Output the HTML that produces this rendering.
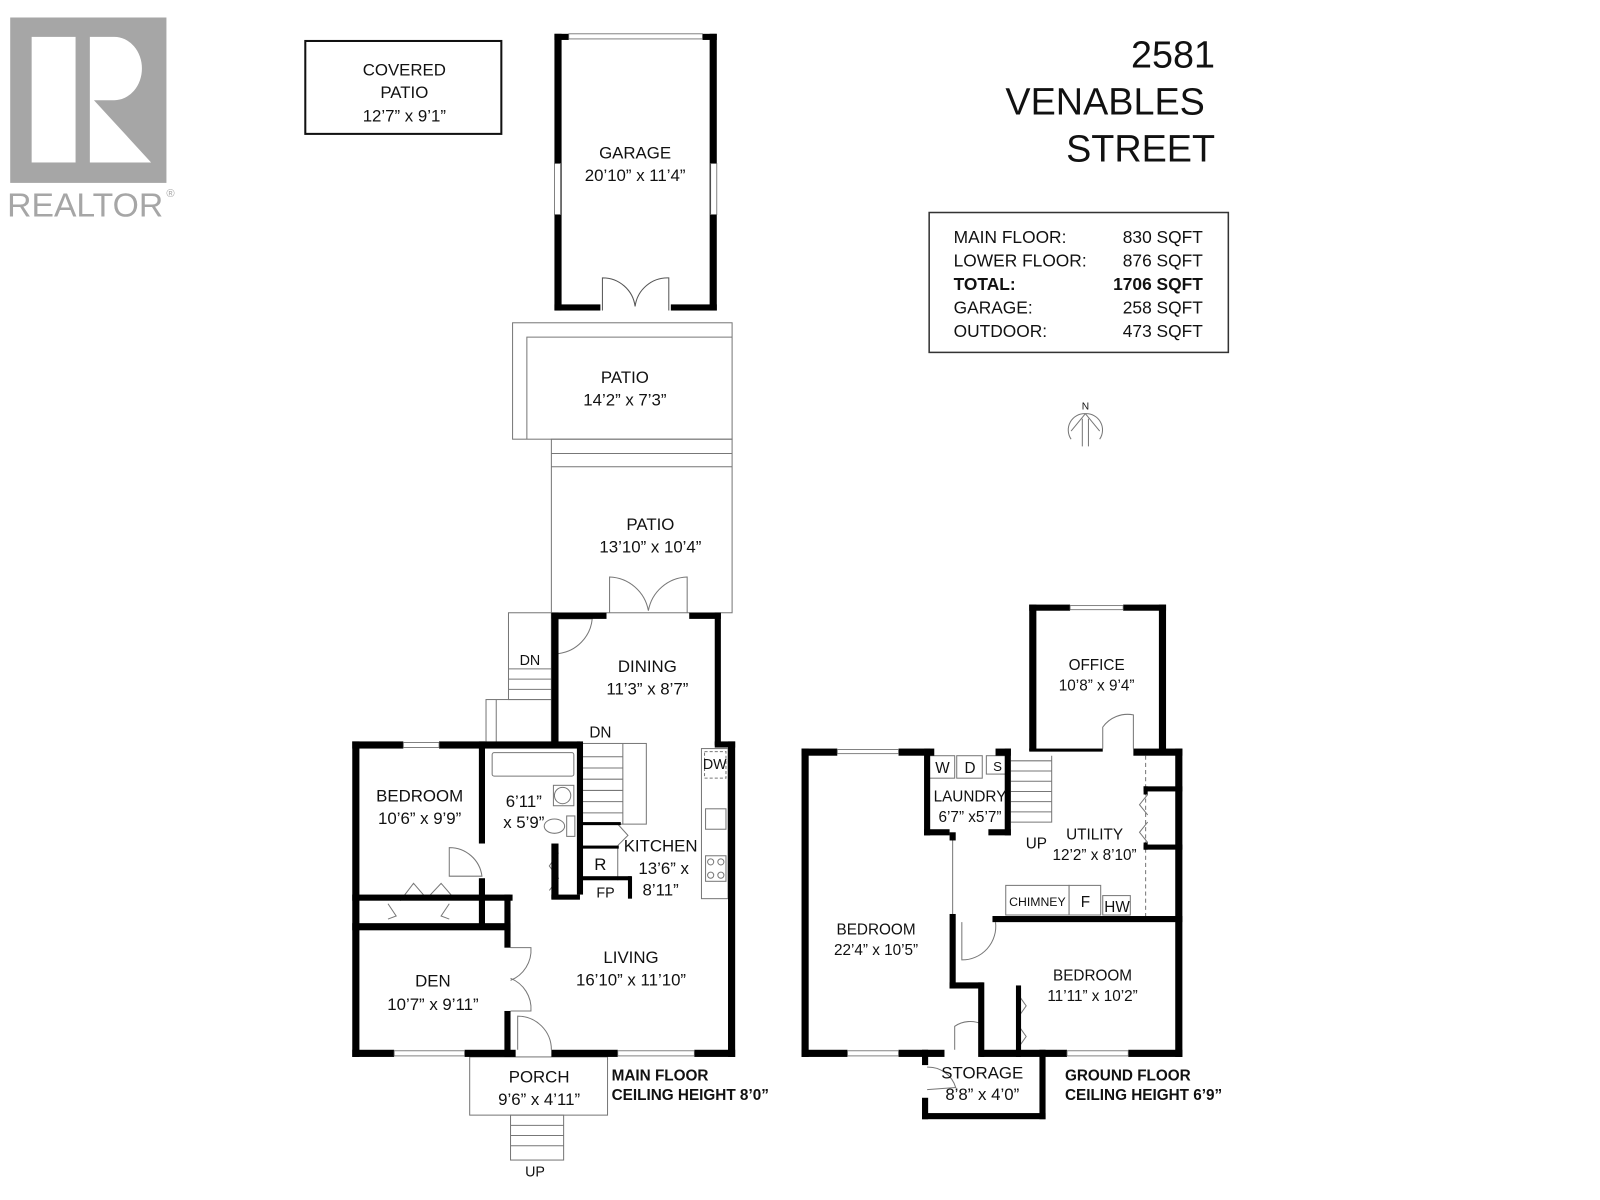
<!DOCTYPE html>
<html><head><meta charset="utf-8"><style>
html,body{margin:0;padding:0;background:#fff;width:1600px;height:1200px;overflow:hidden}
svg{display:block}
text{font-family:"Liberation Sans",sans-serif;fill:#111}
.t{font-size:16.5px;text-anchor:middle}
.s{font-size:15px;text-anchor:middle}
.b{font-size:15px;font-weight:bold}
</style></head><body>
<svg width="1600" height="1200" viewBox="0 0 1567 1175" xmlns="http://www.w3.org/2000/svg">
<!-- logo -->
<rect x="10" y="17" width="153" height="162" fill="#a6a6a6"/>
<rect x="31" y="36" width="43" height="123" fill="#fff"/>
<path d="M88,36 L112,36 A27,31 0 0 1 112,98 L92,98 L148,159 L88,159 Z" fill="#fff"/>
<text x="7" y="212" style="font-size:33px;fill:#a6a6a6">REALTOR</text>
<text x="163" y="193" style="font-size:11px;fill:#a6a6a6">®</text>

<!-- title -->
<text x="1190" y="66" style="font-size:37px;text-anchor:end">2581</text>
<text x="1180" y="112" style="font-size:37px;text-anchor:end">VENABLES</text>
<text x="1190" y="158" style="font-size:37px;text-anchor:end">STREET</text>
<rect x="910" y="208" width="293" height="137" fill="none" stroke="#333" stroke-width="1.5"/>
<g style="font-size:17px">
<text x="934" y="238">MAIN FLOOR:</text><text x="1178" y="238" text-anchor="end">830 SQFT</text>
<text x="934" y="261">LOWER FLOOR:</text><text x="1178" y="261" text-anchor="end">876 SQFT</text>
<text x="934" y="284" font-weight="bold">TOTAL:</text><text x="1178" y="284" text-anchor="end" font-weight="bold">1706 SQFT</text>
<text x="934" y="307">GARAGE:</text><text x="1178" y="307" text-anchor="end">258 SQFT</text>
<text x="934" y="330">OUTDOOR:</text><text x="1178" y="330" text-anchor="end">473 SQFT</text>
</g>
<!-- compass -->
<text x="1063" y="401" style="font-size:10px;text-anchor:middle">N</text>
<g fill="none" stroke="#777" stroke-width="1">
<path d="M1049,430 A16,16 0 0 1 1063,405 A16,16 0 0 1 1077,430"/>
<path d="M1063,405 L1049,422 M1063,405 L1077,422 M1060,410 L1060,437 M1066,410 L1066,437"/>
</g>

<!-- covered patio -->
<rect x="299" y="40" width="192" height="91" fill="none" stroke="#111" stroke-width="2"/>
<text class="t" x="396" y="74">COVERED</text>
<text class="t" x="396" y="96">PATIO</text>
<text class="t" x="396" y="119">12’7” x 9’1”</text>

<!-- garage -->
<g fill="#000">
<rect x="543" y="33" width="7" height="271"/><rect x="695" y="33" width="7" height="271"/>
<rect x="543" y="33" width="14" height="6"/><rect x="688" y="33" width="14" height="6"/>
<rect x="543" y="298" width="45" height="6"/><rect x="657" y="298" width="45" height="6"/>
</g>
<g fill="#fff" stroke="#666" stroke-width="0.8">
<rect x="557" y="33" width="131" height="5"/>
<rect x="543" y="160" width="6" height="50"/><rect x="696" y="160" width="6" height="50"/>
</g>
<g fill="none" stroke="#555" stroke-width="1">
<path d="M590,304 V272 A32,32 0 0 1 622,300 M655,304 V272 A32,32 0 0 0 622,300"/>
</g>
<text class="t" x="622" y="155">GARAGE</text>
<text class="t" x="622" y="177">20’10” x 11’4”</text>

<!-- patios -->
<g fill="none" stroke="#777" stroke-width="1">
<rect x="502" y="316" width="215" height="114"/>
<path d="M516,430 V330 H717"/>
<rect x="540" y="430" width="177" height="170"/>
<path d="M540,444 H717 M540,457 H717"/>
<path d="M597,600 V565 A40,40 0 0 1 635,598 M673,600 V565 A40,40 0 0 0 635,598"/>
</g>
<text class="t" x="612" y="375">PATIO</text>
<text class="t" x="612" y="397">14’2” x 7’3”</text>
<text class="t" x="637" y="519">PATIO</text>
<text class="t" x="637" y="541">13’10” x 10’4”</text>

<!-- MAIN FLOOR -->
<g fill="none" stroke="#777" stroke-width="1">
<rect x="498" y="600" width="42" height="85"/>
<path d="M498,655 H540 M498,665 H540 M498,675 H540"/>
<rect x="476" y="685" width="64" height="43"/>
<path d="M486,685 V728"/>
<rect x="568" y="728" width="65" height="79"/>
<path d="M568,741 H610 M568,752 H610 M568,763 H610 M568,774 H610 M568,785 H610 M568,796 H610 M610,728 V807"/>
<path d="M547,606 H580 A38,38 0 0 1 547,640"/>
<rect x="482" y="737" width="80" height="23" rx="2"/>
<circle cx="551" cy="779" r="8"/><rect x="542" y="769" width="20" height="20"/>
<ellipse cx="543" cy="809" rx="10" ry="7"/><rect x="555" y="799" width="8" height="20"/>
<rect x="687" y="733" width="26" height="147"/>
<rect x="690" y="736" width="21" height="26" stroke-dasharray="3,2"/>
<rect x="691" y="792" width="20" height="20"/>
<circle cx="696" cy="844" r="3"/><circle cx="706" cy="844" r="3"/><circle cx="696" cy="857" r="3"/><circle cx="706" cy="857" r="3"/>
<rect x="691" y="838" width="20" height="25"/>
<path d="M568,830 H605 V862"/>
<path d="M605,807 L615,818 L605,828"/>
<path d="M440,858 V830 A32,32 0 0 1 472,858 Z"/>
<path d="M500,928 H520 A32,32 0 0 1 500,960 M500,990 H520 A32,32 0 0 0 500,958"/>
<path d="M507,1028 V995 A33,33 0 0 1 540,1028"/>
<path d="M392,882 L405,865 L418,880 L432,865 L445,880 M380,885 L388,897 L380,900 M440,885 L432,897 L440,900"/>
<path d="M547,835 L538,848 L547,860 L538,872"/>
<rect x="460" y="1035" width="135" height="57"/>
<rect x="500" y="1092" width="52" height="44"/>
<path d="M500,1102 H552 M500,1112 H552 M500,1122 H552"/>
</g>
<g fill="#000">
<rect x="540" y="600" width="7" height="128"/>
<rect x="540" y="600" width="54" height="6"/><rect x="675" y="600" width="31" height="6"/>
<rect x="700" y="600" width="6" height="130"/>
<rect x="700" y="726" width="20" height="6"/>
<rect x="713" y="726" width="7" height="309"/>
<rect x="345" y="726" width="7" height="309"/>
<rect x="345" y="726" width="50" height="7"/><rect x="430" y="726" width="138" height="7"/>
<rect x="469" y="726" width="6" height="100"/>
<rect x="565" y="726" width="6" height="150"/>
<rect x="568" y="805" width="40" height="3"/>
<rect x="568" y="828" width="38" height="3"/>
<rect x="568" y="858" width="50" height="4"/><rect x="615" y="858" width="4" height="22"/>
<rect x="540" y="826" width="7" height="54"/><rect x="540" y="876" width="28" height="5"/>
<rect x="345" y="876" width="157" height="6"/>
<rect x="469" y="860" width="6" height="50"/>
<rect x="494" y="876" width="6" height="52"/>
<rect x="494" y="990" width="6" height="45"/>
<rect x="345" y="904" width="155" height="7"/>
<rect x="345" y="1028" width="41" height="7"/><rect x="455" y="1028" width="50" height="7"/>
<rect x="540" y="1028" width="65" height="7"/><rect x="680" y="1028" width="40" height="7"/>
</g>
<g fill="#fff" stroke="#666" stroke-width="0.8">
<rect x="395" y="727" width="35" height="5"/>
<rect x="386" y="1029" width="69" height="5"/>
<rect x="605" y="1029" width="75" height="5"/>
</g>
<text class="t" x="519" y="651" style="font-size:14px">DN</text>
<text class="t" x="588" y="722" style="font-size:15px">DN</text>
<text class="t" x="634" y="658">DINING</text>
<text class="t" x="634" y="680">11’3” x 8’7”</text>
<text class="t" x="411" y="785">BEDROOM</text>
<text class="t" x="411" y="807">10’6” x 9’9”</text>
<text class="t" x="513" y="790">6’11”</text>
<text class="t" x="513" y="811">x 5’9”</text>
<text class="t" x="700" y="753" style="font-size:14px">DW</text>
<text class="t" x="647" y="834">KITCHEN</text>
<text class="t" x="650" y="856">13’6” x</text>
<text class="t" x="647" y="877">8’11”</text>
<text class="t" x="588" y="852">R</text>
<text class="t" x="593" y="879" style="font-size:14px">FP</text>
<text class="t" x="618" y="943">LIVING</text>
<text class="t" x="618" y="965">16’10” x 11’10”</text>
<text class="t" x="424" y="966">DEN</text>
<text class="t" x="424" y="989">10’7” x 9’11”</text>
<text class="t" x="528" y="1060">PORCH</text>
<text class="t" x="528" y="1082">9’6” x 4’11”</text>
<text class="t" x="524" y="1152" style="font-size:14px">UP</text>
<text class="b" x="599" y="1058">MAIN FLOOR</text>
<text class="b" x="599" y="1077">CEILING HEIGHT 8’0”</text>

<!-- GROUND FLOOR -->
<g fill="none" stroke="#777" stroke-width="1">
<path d="M1080,733 V712 A30,30 0 0 1 1110,700 V733"/>
<rect x="910" y="740" width="25" height="22"/><rect x="937" y="740" width="25" height="22"/><rect x="966" y="740" width="22" height="18"/>
<path d="M990,745 H1030 M990,755 H1030 M990,765 H1030 M990,775 H1030 M990,785 H1030 M990,795 H1030 M1030,740 V805 H990"/>
<path d="M1122,740 V897" stroke-dasharray="4,3"/>
<path d="M1124,778 L1116,788 L1124,798 M1124,805 L1116,815 L1124,825"/>
<path d="M933,820 V900"/>
<rect x="985" y="867" width="62" height="29"/><rect x="1047" y="867" width="31" height="29"/><rect x="1080" y="877" width="27" height="19"/>
<path d="M942,903 V940 A33,33 0 0 0 975,903"/>
<path d="M998,975 L1005,985 L998,995 M998,1005 L1005,1015 L998,1025"/>
<path d="M935,1028 V1005 A27,27 0 0 1 962,1003 V1028"/>
<path d="M908,1045 A28,28 0 0 1 936,1065 L908,1067"/>
</g>
<g fill="#000">
<rect x="1008" y="592" width="7" height="143"/><rect x="1135" y="592" width="7" height="143"/>
<rect x="1008" y="592" width="40" height="6"/><rect x="1100" y="592" width="42" height="6"/>
<rect x="785" y="733" width="7" height="302"/>
<rect x="785" y="733" width="35" height="7"/><rect x="880" y="733" width="25" height="7"/>
<rect x="905" y="733" width="10" height="7"/><rect x="975" y="733" width="15" height="7"/>
<rect x="1008" y="733" width="72" height="3"/><rect x="1110" y="733" width="48" height="7"/>
<rect x="1151" y="733" width="7" height="302"/>
<rect x="905" y="733" width="6" height="85"/><rect x="984" y="733" width="6" height="85"/>
<rect x="905" y="812" width="25" height="6"/><rect x="968" y="812" width="22" height="6"/>
<rect x="930" y="815" width="6" height="8"/>
<rect x="930" y="895" width="6" height="73"/>
<rect x="930" y="962" width="33" height="6"/>
<rect x="958" y="962" width="6" height="73"/>
<rect x="972" y="897" width="186" height="6"/>
<rect x="995" y="965" width="5" height="70"/>
<rect x="1120" y="770" width="38" height="5"/><rect x="1120" y="827" width="38" height="5"/>
<rect x="1120" y="770" width="4" height="8"/><rect x="1120" y="825" width="4" height="7"/>
<rect x="785" y="1028" width="45" height="7"/><rect x="880" y="1028" width="45" height="7"/>
<rect x="960" y="1028" width="85" height="7"/><rect x="1105" y="1028" width="53" height="7"/>
<rect x="903" y="1028" width="6" height="15"/><rect x="903" y="1075" width="6" height="21"/>
<rect x="1018" y="1028" width="6" height="68"/>
<rect x="903" y="1090" width="121" height="6"/>
</g>
<g fill="#fff" stroke="#666" stroke-width="0.8">
<rect x="1048" y="593" width="52" height="4"/>
<rect x="820" y="734" width="60" height="4"/>
<rect x="830" y="1029" width="50" height="5"/>
<rect x="1045" y="1029" width="60" height="5"/>
</g>
<text class="s" x="1074" y="656">OFFICE</text>
<text class="s" x="1074" y="676">10’8” x 9’4”</text>
<text class="s" x="923" y="757">W</text><text class="s" x="950" y="757">D</text><text class="s" x="977" y="755" style="font-size:13px">S</text>
<text class="s" x="950" y="785">LAUNDRY</text>
<text class="s" x="950" y="805">6’7” x5’7”</text>
<text class="s" x="1015" y="831">UP</text>
<text class="s" x="1072" y="822">UTILITY</text>
<text class="s" x="1072" y="842">12’2” x 8’10”</text>
<text class="s" x="1016" y="887" style="font-size:12px">CHIMNEY</text>
<text class="s" x="1063" y="888">F</text>
<text class="s" x="1094" y="893">HW</text>
<text class="s" x="858" y="915">BEDROOM</text>
<text class="s" x="858" y="935">22’4” x 10’5”</text>
<text class="s" x="1070" y="960">BEDROOM</text>
<text class="s" x="1070" y="980">11’11” x 10’2”</text>
<text class="t" x="962" y="1056">STORAGE</text>
<text class="t" x="962" y="1077">8’8” x 4’0”</text>
<text class="b" x="1043" y="1058">GROUND FLOOR</text>
<text class="b" x="1043" y="1077">CEILING HEIGHT 6’9”</text>
</svg>
</body></html>
